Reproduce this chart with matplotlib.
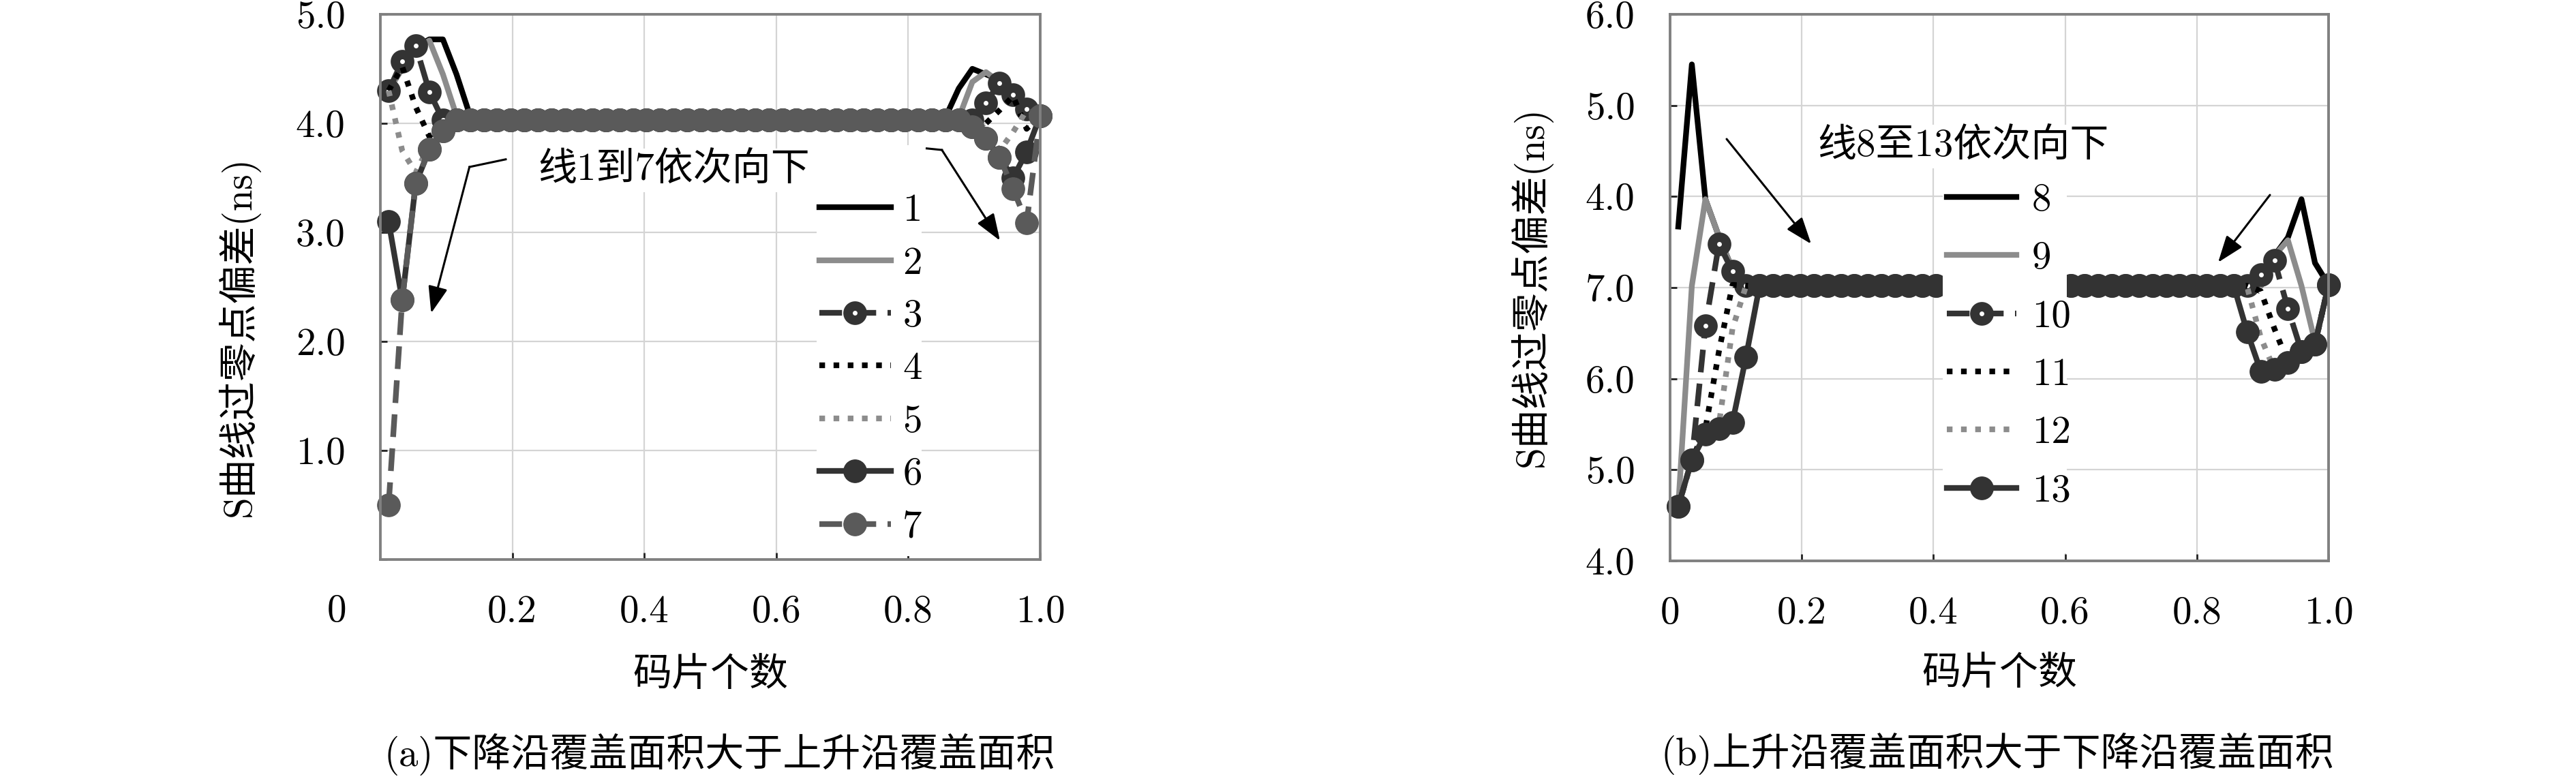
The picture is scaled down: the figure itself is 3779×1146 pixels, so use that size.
import numpy as np
import matplotlib
matplotlib.use('Agg')
import matplotlib.pyplot as plt
from matplotlib.patches import Rectangle

plt.rcParams['font.family'] = ['cmr10', 'Noto Sans CJK SC', 'DejaVu Sans']
plt.rcParams['axes.unicode_minus'] = False
plt.rcParams['mathtext.fontset'] = 'cm'

W, H = 3780, 1146
FS = 41

# ---------------- data ----------------
# chip positions (normalized chip count), shared by every series
chips = np.linspace(0.0125, 1.0, 49)

# panel (a): heads = first 7 chips, tails = last 8 chips, flat level in between
a_labels = ['1', '2', '3', '4', '5', '6', '7']
a_heads = [
    [4.30, 4.52, 4.70, 4.77, 4.77, 4.45, 4.07],
    [4.30, 4.50, 4.68, 4.76, 4.45, 4.07, 4.05],
    [4.30, 4.57, 4.71, 4.29, 4.03, 4.03, 4.03],
    [4.30, 4.52, 4.15, 3.88, 4.03, 4.03, 4.03],
    [4.30, 3.75, 3.55, 3.80, 4.00, 4.03, 4.03],
    [3.10, 2.38, 3.45, 3.76, 3.93, 4.03, 4.03],
    [0.50, 2.38, 3.45, 3.76, 3.93, 4.03, 4.03],
]
a_flat = [4.05, 4.05, 4.03, 4.03, 4.03, 4.03, 4.03]
a_tails = [
    [4.05, 4.32, 4.50, 4.45, 4.40, 4.30, 4.18, 4.07],
    [4.05, 4.05, 4.38, 4.47, 4.38, 4.25, 4.12, 4.07],
    [4.03, 4.03, 4.03, 4.19, 4.37, 4.26, 4.13, 4.07],
    [4.03, 4.03, 4.03, 4.00, 4.12, 4.25, 3.95, 4.07],
    [4.03, 4.03, 4.03, 3.95, 3.75, 3.92, 4.12, 4.07],
    [4.03, 4.03, 3.97, 3.86, 3.69, 3.50, 3.74, 4.07],
    [4.03, 4.03, 3.97, 3.86, 3.69, 3.40, 3.09, 4.07],
]

# panel (b): values on the panel's own (odd) tick scale
b_labels = ['8', '9', '10', '11', '12', '13']
b_heads = [
    [7.67, 9.45, 7.97, 7.56, 7.20, 7.02, 7.02],
    [4.60, 7.02, 7.97, 7.56, 7.20, 7.02, 7.02],
    [4.60, 5.11, 6.58, 7.48, 7.18, 7.02, 7.02],
    [4.60, 5.11, 5.45, 6.30, 7.03, 7.02, 7.02],
    [4.60, 5.11, 5.39, 5.50, 6.55, 7.02, 7.02],
    [4.60, 5.11, 5.39, 5.45, 5.52, 6.24, 7.02],
]
b_flat = [7.02, 7.02, 7.02, 7.02, 7.02, 7.02]
b_tails = [
    [7.02, 7.02, 7.02, 7.35, 7.55, 7.97, 7.27, 7.03],
    [7.02, 7.02, 7.02, 7.35, 7.52, 7.02, 6.40, 7.03],
    [7.02, 7.02, 7.14, 7.30, 6.77, 6.30, 6.38, 7.03],
    [7.02, 7.02, 6.96, 6.55, 6.18, 6.28, 6.38, 7.03],
    [7.02, 7.00, 6.45, 6.10, 6.16, 6.28, 6.38, 7.03],
    [7.02, 6.51, 6.08, 6.10, 6.18, 6.30, 6.38, 7.03],
]

a_xticks = [0.2, 0.4, 0.6, 0.8, 1.0]
a_xticklabels = ['0.2', '0.4', '0.6', '0.8', '1.0']
a_yticks = [0, 1, 2, 3, 4, 5]
a_yticklabels = ['', '1.0', '2.0', '3.0', '4.0', '5.0']
b_xticks = [0, 0.2, 0.4, 0.6, 0.8, 1.0]
b_xticklabels = ['0', '0.2', '0.4', '0.6', '0.8', '1.0']
b_yticks = [4, 5, 6, 7, 8, 9, 10]
b_yticklabels = ['4.0', '5.0', '6.0', '7.0', '4.0', '5.0', '6.0']

ylabel = 'S曲线过零点偏差(ns)'
xlabel = '码片个数'
cap_a = '(a)下降沿覆盖面积大于上升沿覆盖面积'
cap_b = '(b)上升沿覆盖面积大于下降沿覆盖面积'
note_a = '线1到7依次向下'
note_b = '线8至13依次向下'

# ---------------- styles ----------------
DARK = '#333333'
GRAY = '#8c8c8c'
MID = '#5a5a5a'
LW = 6
st_solid_k = dict(color='black', lw=LW, ls='-')
st_solid_g = dict(color=GRAY, lw=LW, ls='-')
st_dash_o = dict(color=DARK, lw=LW, ls=(0, (4, 2)), marker='o', ms=15, mew=10,
                 mfc='white', mec=DARK)
st_dot_k = dict(color='black', lw=LW, ls=(0, (1, 1.5)))
st_dot_g = dict(color=GRAY, lw=LW, ls=(0, (1, 1.5)))
st_solid_m = dict(color=DARK, lw=LW, ls='-', marker='o', ms=24, mfc=DARK, mec=DARK)
st_dash_m = dict(color=MID, lw=LW, ls=(0, (4, 2)), marker='o', ms=24, mfc=MID, mec=MID)
a_styles = [st_solid_k, st_solid_g, st_dash_o, st_dot_k, st_dot_g, st_solid_m, st_dash_m]
b_styles = [st_solid_k, st_solid_g, st_dash_o, st_dot_k, st_dot_g, st_solid_m]

fig = plt.figure(figsize=(W / 100, H / 100), dpi=100)
axA = fig.add_axes([558 / W, 1 - 821 / H, 968 / W, 800 / H])
axB = fig.add_axes([2450 / W, 1 - 823 / H, 966 / W, 802 / H])


def series(head, flat, tail):
    n_mid = len(chips) - len(head) - len(tail)
    return head + [flat] * n_mid + tail


def frame(ax, xt, xtl, yt, ytl, ylim):
    ax.set_xlim(0, 1)
    ax.set_ylim(*ylim)
    ax.set_xticks(xt)
    ax.set_xticklabels(xtl)
    ax.set_yticks(yt)
    ax.set_yticklabels(ytl)
    ax.set_axisbelow(True)
    ax.grid(True, color='#d4d4d4', lw=1.6)
    for s in ax.spines.values():
        s.set_color('#808080')
        s.set_linewidth(2.8)
    ax.tick_params(axis='both', direction='in', length=7, width=2, color='#222222',
                   labelsize=FS)
    ax.tick_params(axis='y', pad=37)
    ax.tick_params(axis='x', pad=37)


frame(axA, a_xticks, a_xticklabels, a_yticks, a_yticklabels, (0, 5))
frame(axB, b_xticks, b_xticklabels, b_yticks, b_yticklabels, (4, 10))

handlesA = []
for lab, hd, fl, tl, st in zip(a_labels, a_heads, a_flat, a_tails, a_styles):
    ln, = axA.plot(chips, series(hd, fl, tl), label=lab, clip_on=False, **st)
    handlesA.append(ln)
handlesB = []
for lab, hd, fl, tl, st in zip(b_labels, b_heads, b_flat, b_tails, b_styles):
    ln, = axB.plot(chips, series(hd, fl, tl), label=lab, clip_on=False, **st)
    handlesB.append(ln)

# white legend panels (they hide grid and, in (b), the flat band)
axA.add_patch(Rectangle((0.661, 0.006), 0.159, 0.754, transform=axA.transAxes,
                        facecolor='white', edgecolor='none', zorder=4))
axB.add_patch(Rectangle((0.414, 0.014), 0.189, 0.723, transform=axB.transAxes,
                        facecolor='white', edgecolor='none', zorder=4))

legA = axA.legend(handles=handlesA, loc='upper left', bbox_to_anchor=(0.665, 0.671),
                  prop=dict(family='cmr10', size=FS), frameon=False, handlelength=1.85,
                  handletextpad=0.3, labelspacing=0.46, borderpad=0, borderaxespad=0)
legB = axB.legend(handles=handlesB, loc='upper left', bbox_to_anchor=(0.420, 0.691),
                  prop=dict(family='cmr10', size=FS), frameon=False, handlelength=1.8,
                  handletextpad=0.4, labelspacing=0.60, borderpad=0, borderaxespad=0)
legA.set_zorder(5)
legB.set_zorder(5)

# annotations
axA.text(0.445, 3.57, note_a, fontsize=FS, ha='center', va='center', zorder=6,
         family=['cmr10', 'Noto Sans CJK SC'],
         bbox=dict(facecolor='white', edgecolor='none', pad=4))
axB.text(0.445, 8.55, note_b, fontsize=FS, ha='center', va='center', zorder=6,
         family=['cmr10', 'Noto Sans CJK SC'],
         bbox=dict(facecolor='white', edgecolor='none', pad=4))

aprops = dict(arrowstyle='-|>,head_length=0.6,head_width=0.22', color='black', lw=2.2,
              mutation_scale=40, shrinkA=0, shrinkB=0)
axA.plot([0.190, 0.135], [3.67, 3.60], color='black', lw=2.2, zorder=6)
axA.annotate('', xy=(0.077, 2.26), xytext=(0.135, 3.60), arrowprops=aprops, zorder=6)
axA.plot([0.828, 0.851], [3.77, 3.756], color='black', lw=2.2, zorder=6)
axA.annotate('', xy=(0.939, 2.925), xytext=(0.851, 3.756), arrowprops=aprops, zorder=6)
axB.annotate('', xy=(0.2143, 7.479), xytext=(0.0859, 8.631), arrowprops=aprops, zorder=6)
axB.annotate('', xy=(0.8323, 7.277), xytext=(0.911, 8.017), arrowprops=aprops, zorder=6)


# figure-level texts
def ftext(px, py, s, **kw):
    fig.text(px / W, 1 - py / H, s, fontsize=FS, ha='center', va='center', **kw)


ftext(494, 897, '0')
ftext(350, 494, ylabel, rotation=90)
ftext(2246, 421, ylabel, rotation=90)
ftext(1042, 991, xlabel)
ftext(2933, 989, xlabel)
ftext(1056, 1107, cap_a)
ftext(2930, 1106, cap_b)

fig.savefig('out.png', dpi=100)
